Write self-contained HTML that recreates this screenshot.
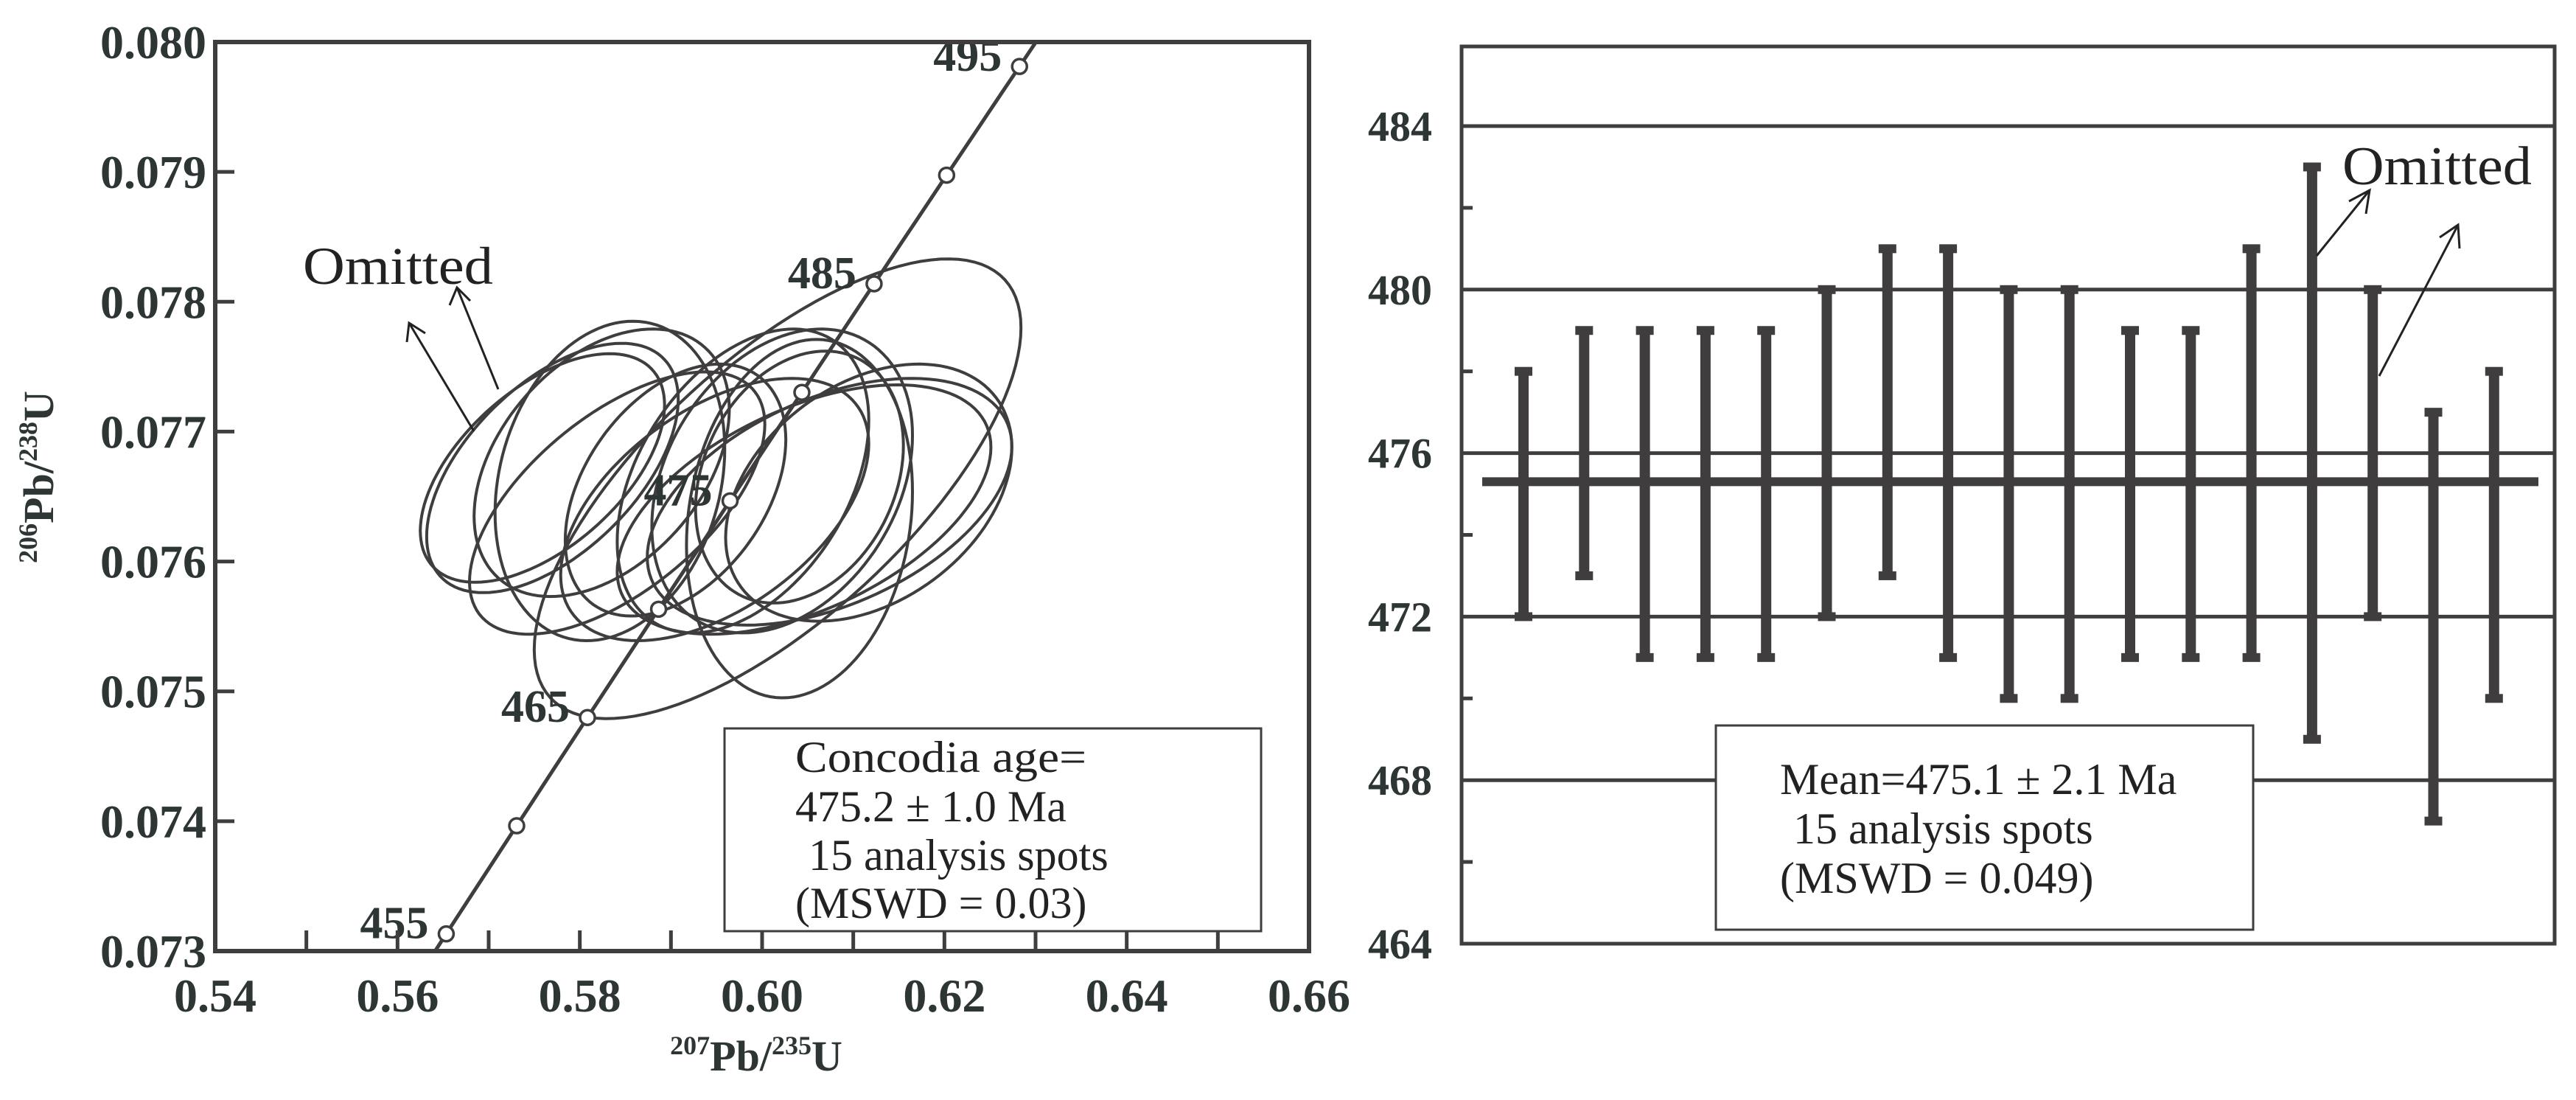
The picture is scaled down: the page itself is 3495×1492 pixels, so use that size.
<!DOCTYPE html>
<html><head><meta charset="utf-8"><style>
html,body{margin:0;padding:0;background:#fff;width:3495px;height:1492px;overflow:hidden;position:relative;}
svg{display:block;position:absolute;left:0;top:0;font-family:"Liberation Serif",serif;}
</style></head><body>
<svg id="chart" width="3495" height="1492" viewBox="0 0 3495 1492" xmlns="http://www.w3.org/2000/svg" font-family="Liberation Serif, serif" overflow="hidden">
<defs><clipPath id="clipL"><rect x="292" y="57" width="1484" height="1233"/></clipPath></defs>
<rect width="3495" height="1492" fill="#fff"/>
<g id="left"></g>
<g id="right"></g>
<text x="1026" y="1452" text-anchor="middle" font-size="58" font-weight="bold" fill="#2d3535"><tspan font-size="36" dy="-22">207</tspan><tspan dy="22">Pb/</tspan><tspan font-size="36" dy="-22">235</tspan><tspan dy="22">U</tspan></text>
<text transform="translate(72,647) rotate(-90)" text-anchor="middle" font-size="58" font-weight="bold" fill="#2d3535"><tspan font-size="36" dy="-22">206</tspan><tspan dy="22">Pb/</tspan><tspan font-size="36" dy="-22">238</tspan><tspan dy="22">U</tspan></text>
<text x="411" y="385" font-size="72" textLength="258" lengthAdjust="spacingAndGlyphs" fill="#222">Omitted</text>
<g stroke="#222" stroke-width="3" fill="none">
<line x1="643" y1="585" x2="555" y2="438"/><polyline points="552,464 555,438 577,452"/>
<line x1="676" y1="528" x2="620" y2="390"/><polyline points="610,414 620,390 638,408"/>
</g>
<g>
<rect x="983" y="988" width="728" height="275" fill="#fff" stroke="#3f3d3d" stroke-width="3"/>
<text x="1079" y="1047" font-size="60" fill="#222" textLength="395" lengthAdjust="spacingAndGlyphs">Concodia age=</text>
<text x="1079" y="1114" font-size="60" fill="#222">475.2 ± 1.0 Ma</text>
<text x="1097" y="1180" font-size="60" fill="#222">15 analysis spots</text>
<text x="1079" y="1245" font-size="60" fill="#222">(MSWD = 0.03)</text>
</g>
</svg>
<script>
// ---- Concordia plot data ----
const xTicks = [0.54, 0.56, 0.58, 0.60, 0.62, 0.64, 0.66];
const xTickLabels = ["0.54","0.56","0.58","0.60","0.62","0.64","0.66"];
const yTicks = [0.073, 0.074, 0.075, 0.076, 0.077, 0.078, 0.079, 0.080];
const yTickLabels = ["0.073","0.074","0.075","0.076","0.077","0.078","0.079","0.080"];
const markerAges = [455, 460, 465, 470, 475, 480, 485, 490, 495];
const labelAges = [455, 465, 475, 485, 495];
// ellipse centers (207/235, 206/238), half-widths, half-heights, correlation
const ellCx = [0.5759,0.5770,0.5824,0.5833,0.6017,0.5948,0.5979,0.6022,0.6041,0.6117,0.6074,0.6046,0.5905,0.5841,0.6041];
const ellCy = [0.07672,0.07672,0.07676,0.07662,0.07656,0.07640,0.07662,0.07662,0.07633,0.07653,0.07646,0.07640,0.07655,0.07645,0.07665];
const ellRx = [0.0134,0.0138,0.0140,0.0126,0.0267,0.0169,0.0138,0.0143,0.0124,0.0157,0.0200,0.0205,0.0121,0.0162,0.0114];
const ellRy = [0.00088,0.00096,0.00103,0.00123,0.00177,0.00101,0.00117,0.00117,0.00138,0.00099,0.00095,0.00096,0.00097,0.00101,0.00097];
const ellRho = [0.55,0.55,0.4,0.2,0.7,0.5,0.4,0.3,0.15,0.35,0.45,0.5,0.4,0.6,0.25];
// ---- Weighted mean plot data ----
const spotHigh = [478,479,479,479,479,480,481,481,480,480,479,479,481,483,480,477,478];
const spotLow  = [472,473,471,471,471,472,473,471,470,470,471,471,471,469,472,467,470];
const meanAge = 475.3;
const y2Ticks = [464,468,472,476,480,484];
const y2Minor = [466,470,474,478,482];

const NS="http://www.w3.org/2000/svg";
function mk(parent,tag,attrs,text){const e=document.createElementNS(NS,tag);for(const k in attrs)e.setAttribute(k,attrs[k]);if(text!==undefined)e.textContent=text;parent.appendChild(e);return e;}
const C="#3f3d3d";
const L=document.getElementById('left'), R=document.getElementById('right');
const X=v=>292+(v-0.54)/0.12*(1776-292);
const Y=v=>1290-(v-0.073)/0.007*(1290-57);

const eg=mk(L,'g',{'clip-path':'url(#clipL)'});
ellCx.forEach((cx,i)=>{
  let d='';
  for(let k=0;k<=120;k++){const t=k/120*2*Math.PI;
    const x=cx+ellRx[i]*Math.cos(t);
    const y=ellCy[i]+ellRy[i]*(ellRho[i]*Math.cos(t)+Math.sqrt(1-ellRho[i]*ellRho[i])*Math.sin(t));
    d+=(k?'L':'M')+X(x).toFixed(1)+','+Y(y).toFixed(1);}
  const p=mk(eg,'path',{d:d+'Z',fill:'none',stroke:C,'stroke-width':4});
  
  
});
const l238=1.55125e-10, l235=9.8485e-10;
const r206=a=>Math.exp(l238*a*1e6)-1, r207=a=>Math.exp(l235*a*1e6)-1;
let cd='';
for(let a=430,k=0;a<=520;a+=1,k++){cd+=(k?'L':'M')+X(r207(a)).toFixed(1)+','+Y(r206(a)).toFixed(1);}
const cc=mk(eg,'path',{d:cd,fill:'none',stroke:C,'stroke-width':5});


markerAges.forEach(a=>{
  const m=mk(eg,'circle',{cx:X(r207(a)),cy:Y(r206(a)),r:10,fill:'#fff',stroke:C,'stroke-width':3.5});
  
  
});
labelAges.forEach(a=>{
  const t=mk(L,'text',{x:X(r207(a))-24,y:Y(r206(a))+6,'text-anchor':'end','font-size':62,'font-weight':'bold',fill:'#2d3535'},String(a));
  
  
});
const fr=mk(L,'rect',{x:292,y:57,width:1484,height:1233,fill:'none',stroke:C,'stroke-width':6});


for(let v=0.55;v<0.66;v+=0.01){mk(L,'line',{x1:X(v),x2:X(v),y1:1290,y2:1262,stroke:C,'stroke-width':5});}
xTicks.forEach((v,i)=>{
  const t=mk(L,'text',{x:X(v),y:1372,'text-anchor':'middle','font-size':64,'font-weight':'bold',fill:'#2d3535'},xTickLabels[i]);
  
  
});
yTicks.forEach((v,i)=>{
  mk(L,'line',{x1:292,x2:318,y1:Y(v),y2:Y(v),stroke:C,'stroke-width':5});
  const t=mk(L,'text',{x:280,y:Y(v)+22,'text-anchor':'end','font-size':64,'font-weight':'bold',fill:'#2d3535'},yTickLabels[i]);
  
  
});

const Y2=v=>1280-(v-464)*55.45;
const X2=i=>2067+i*82.3;
y2Ticks.forEach(v=>{
  if(v>464){const g=mk(R,'line',{x1:1983,x2:3466,y1:Y2(v),y2:Y2(v),stroke:C,'stroke-width':5});
  
  }
  const t=mk(R,'text',{x:1943,y:Y2(v)+20,'text-anchor':'end','font-size':58,'font-weight':'bold',fill:'#2d3535'},String(v));
  
  
});
y2Minor.forEach(v=>{mk(R,'line',{x1:1983,x2:1998,y1:Y2(v),y2:Y2(v),stroke:C,'stroke-width':5});});
const lb=mk(R,'g',{});


mk(lb,'rect',{x:2328,y:984,width:729,height:277,fill:'#fff',stroke:C,'stroke-width':3});
mk(lb,'text',{x:2415,y:1077,'font-size':60,fill:'#222'},'Mean=475.1 ± 2.1 Ma');
mk(lb,'text',{x:2433,y:1144,'font-size':60,fill:'#222'},'15 analysis spots');
mk(lb,'text',{x:2415,y:1211,'font-size':60,fill:'#222'},'(MSWD = 0.049)');
spotHigh.forEach((h,i)=>{
  const g=mk(R,'g',{fill:C});
  
  
  const x=X2(i), yt=Y2(h), yb=Y2(spotLow[i]);
  mk(g,'rect',{x:x-7,y:yt,width:14,height:yb-yt});
  mk(g,'rect',{x:x-12,y:yt-6,width:24,height:12});
  mk(g,'rect',{x:x-12,y:yb-6,width:24,height:12});
});
const ml=mk(R,'line',{x1:2011,x2:3444,y1:Y2(meanAge),y2:Y2(meanAge),stroke:C,'stroke-width':12});


const f2=mk(R,'rect',{x:1983,y:63,width:1483,height:1217,fill:'none',stroke:C,'stroke-width':5});


const om=mk(R,'text',{x:3178,y:250,'font-size':74,fill:'#222',textLength:257,lengthAdjust:'spacingAndGlyphs'},'Omitted');


const ar=mk(R,'g',{stroke:'#222','stroke-width':3,fill:'none'});


mk(ar,'line',{x1:3143,y1:347,x2:3215,y2:258});
mk(ar,'polyline',{points:'3187,273 3215,258 3210,290'});
mk(ar,'line',{x1:3228,y1:510,x2:3335,y2:305});
mk(ar,'polyline',{points:'3310,322 3335,305 3337,337'});
</script>
</body></html>
